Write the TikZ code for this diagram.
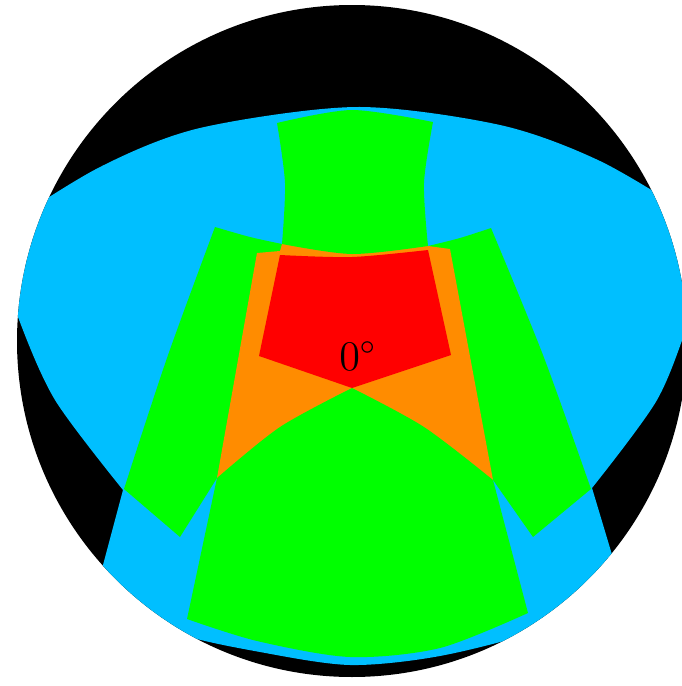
\documentclass[tikz,border=0pt]{standalone}
\definecolor{zoneblue}{RGB}{0,191,255}
\definecolor{zonegreen}{RGB}{0,255,0}
\definecolor{zoneorange}{RGB}{255,140,0}
\definecolor{zonered}{RGB}{255,0,0}
\tikzset{
    rim/.style={fill=black},
    blueband/.style={fill=zoneblue},
    greenpatch/.style={fill=zonegreen},
    orangepatch/.style={fill=zoneorange},
    redpatch/.style={fill=zonered},
    anglelabel/.style={
        font=\fontsize{12}{14}\selectfont,
        inner sep=0pt, anchor=base
    }
}
\begin{document}
\begin{tikzpicture}[x=0.1mm, y=-0.1mm]
    \useasboundingbox (0,0) rectangle (682,686);

    % shared corners
    \coordinate (centre) at (352,341);
    \coordinate (apex) at (352,388);
    \coordinate (redL) at (259,356);
    \coordinate (redR) at (451,355);
    \coordinate (orTL) at (257,253);
    \coordinate (orTR) at (450,249);
    \coordinate (orBL) at (217,478);
    \coordinate (orBR) at (493,480);
    \coordinate (capL) at (282,244);
    \coordinate (capR) at (428,246);

    % outer disc
    \fill[rim, save path=\rimpath] (centre) circle[x radius=33.5mm, y radius=33.6mm];

    \begin{scope}
        \clip[use path=\rimpath];
        \fill[blueband]
            plot[smooth] coordinates {(-20,246) (0,229) (100,167) (200,128)
                (356,107) (500,125) (600,161) (700,220) (720,234)}
            -- plot[smooth] coordinates {(705,262) (690,317) (657,400) (592,488)}
            -- (613,558) -- (630,615)
            -- plot[smooth] coordinates {(600,597) (540,630) (440,656) (350,665)
                (260,652) (180,634) (110,600)}
            -- (95,595) -- (103,565) -- (123,490)
            -- plot[smooth] coordinates {(123,490) (55,400) (18,317) (3,262)}
            -- cycle;
    \end{scope}

    % side strips
    \fill[greenpatch] plot[smooth] coordinates {(215,227) (250,237) (capL)}
        -- (282,300) -- (orBL) -- (180,537)
        -- plot[smooth] coordinates {(124,489) (167,358) (215,227)};
    \fill[greenpatch] plot[smooth] coordinates {(491,228) (460,238) (capR)}
        -- (428,300) -- (orBR) -- (533,537)
        -- plot[smooth] coordinates {(591,489) (543,355) (491,228)};

    \fill[orangepatch] (orTL) -- (280,251) -- (capL) -- (capR) -- (orTR)
        -- (orBR) -- (orBL) -- cycle;
    \fill[redpatch] plot[smooth] coordinates {(280,255) (352,257) (428,250)}
        -- (redR) -- (apex) -- (redL) -- cycle;

    % lower and upper green
    \fill[greenpatch] plot[smooth] coordinates {(orBL) (280,427) (apex)}
        -- plot[smooth] coordinates {(apex) (424,427) (orBR)}
        -- (528,613)
        -- plot[smooth] coordinates {(528,613) (440,648) (350,657) (257,641) (187,619)}
        -- cycle;
    \fill[greenpatch] plot[smooth] coordinates {(277,123) (352,110) (433,122)}
        -- plot[smooth] coordinates {(433,122) (424,183) (capR)}
        -- plot[smooth] coordinates {(capR) (352,254) (capL)}
        -- plot[smooth] coordinates {(capL) (285,183) (277,123)}
        -- cycle;

    \node[anglelabel] (zero) at (358,370) {$0^{\circ}$};
\end{tikzpicture}
\end{document}
